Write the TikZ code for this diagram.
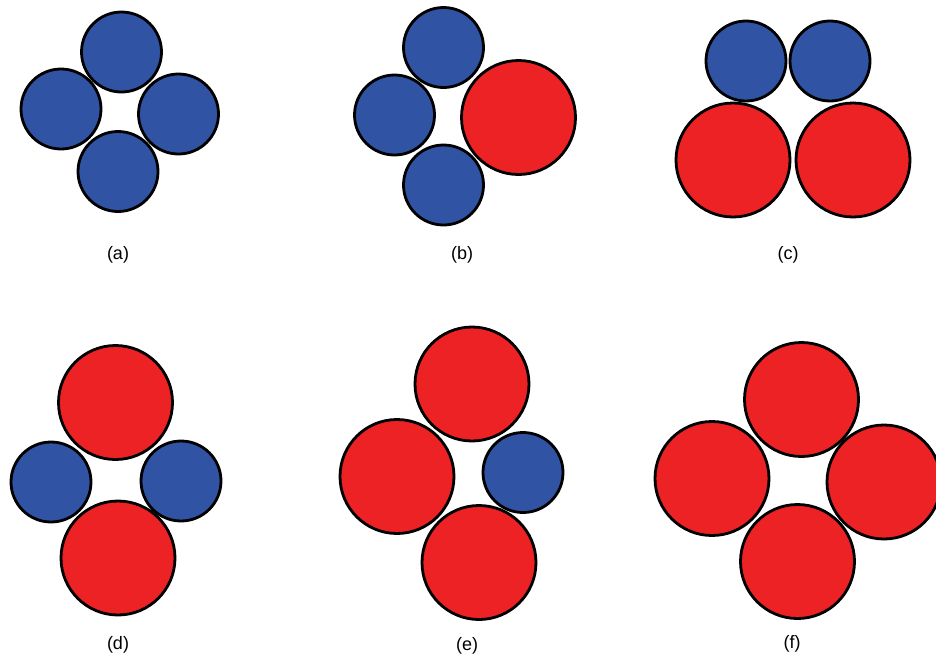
\documentclass[tikz,border=0pt]{standalone}
\usepackage{fontspec}
\setmainfont{Liberation Sans}
\definecolor{ballblue}{RGB}{48,83,163}
\definecolor{ballred}{RGB}{237,34,36}
\tikzset{
  ball/.style={circle,draw=black,line width=2.8pt,inner sep=0pt},
  small/.style={ball,fill=ballblue,minimum size=80pt},
  large/.style={ball,fill=ballred,minimum size=114pt},
  caption/.style={font=\fontsize{18}{21}\selectfont}
}
\begin{document}
\begin{tikzpicture}[x=1pt,y=-1pt]
      \useasboundingbox (0,0) rectangle (936,662);
      % (a)
      \node[small] (a1) at (121.5,52) {};
      \node[small] (a2) at (61,109) {};
      \node[small] (a3) at (178.5,114) {};
      \node[small] (a4) at (118,171.5) {};
      \node[caption] (la) at (118,255) {(a)};
      % (b)
      \node[small] (b1) at (443.5,47.5) {};
      \node[small] (b2) at (394.5,115) {};
      \node[small] (b3) at (443.5,185) {};
      \node[large] (b4) at (518.5,117.5) {};
      \node[caption] (lb) at (462,255) {(b)};
      % (c)
      \node[small] (c1) at (746,61) {};
      \node[small] (c2) at (830,61) {};
      \node[large] (c3) at (733,160) {};
      \node[large] (c4) at (853,160) {};
      \node[caption] (lc) at (788,255) {(c)};
      % (d)
      \node[large] (d1) at (115.5,402.5) {};
      \node[small] (d2) at (51,482) {};
      \node[small] (d3) at (181,481) {};
      \node[large] (d4) at (118,558) {};
      \node[caption] (ld) at (118,645) {(d)};
      % (e)
      \node[large] (e1) at (472,384) {};
      \node[large] (e2) at (397,476.5) {};
      \node[small] (e3) at (523,472.5) {};
      \node[large] (e4) at (479,562.5) {};
      \node[caption] (le) at (467,646) {(e)};
      % (f)
      \node[large] (f1) at (801.5,399.5) {};
      \node[large] (f2) at (712,478.5) {};
      \node[large] (f3) at (884,482) {};
      \node[large] (f4) at (797.5,561.5) {};
      \node[caption] (lf) at (792,644) {(f)};
    \end{tikzpicture}
\end{document}
